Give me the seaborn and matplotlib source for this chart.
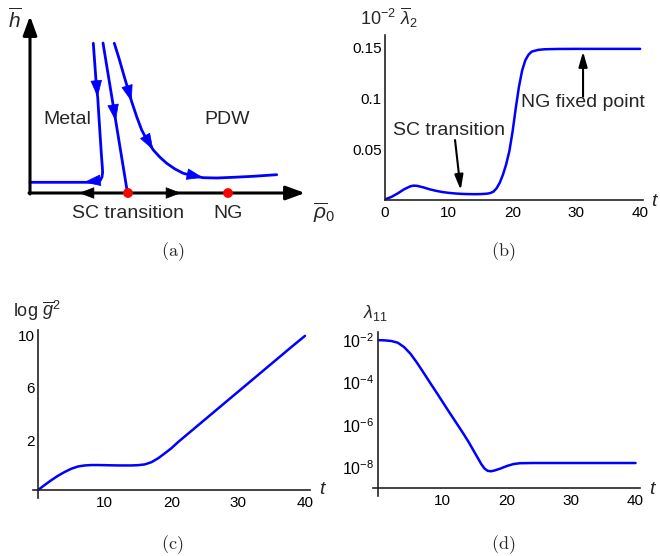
import matplotlib
matplotlib.use("Agg")
import numpy as np
import pandas as pd
import matplotlib.pyplot as plt
import seaborn as sns

# ---------------- data ----------------
# (a) schematic RG flow diagram, in the panel's own drawing units
metal_x = [93.3, 95.0, 96.7, 97.7, 98.7, 100.0, 101.3, 102.3, 102.6, 102.0, 100.3, 97.0, 92.0, 84.0, 56.7, 30.0]
metal_y = [43.3, 66.7, 90.0, 97.0, 113.3, 133.3, 153.3, 166.7, 172.5, 177.0, 180.3, 182.0, 182.3, 182.3, 182.3, 182.3]
sc_x = [103.0, 127.5]
sc_y = [43.0, 193.0]
pdw_x = [114.3, 119.0, 123.3, 127.7, 131.7, 136.7, 141.7, 147.3, 153.3, 160.0, 166.7, 175.0, 183.3, 193.3, 203.3, 216.7, 233.3, 253.3, 276.7]
pdw_y = [43.3, 58.3, 73.3, 88.3, 101.7, 116.7, 130.0, 140.7, 150.0, 157.3, 163.3, 169.0, 173.3, 176.0, 177.7, 178.0, 177.3, 176.3, 174.7]
fixed_x = [128.0, 228.0]
fixed_y = [193.0, 193.0]

# (b) 10^-2 lambda_2 bar vs t
t_b = [0, 1, 2, 3, 4, 4.5, 5, 6, 7, 8, 9, 10, 11, 12, 13, 14, 15, 16, 16.5, 17, 17.5,
       18, 18.5, 19, 19.5, 20, 20.5, 21, 21.5, 22, 22.5, 23, 24, 25, 27, 30, 35, 40]
lam2_b = [0.0006, 0.003, 0.0065, 0.0105, 0.0135, 0.0141, 0.0139, 0.0124, 0.0105, 0.009,
          0.0078, 0.007, 0.0064, 0.006, 0.0058, 0.0057, 0.0058, 0.0062, 0.0068, 0.0082,
          0.0115, 0.017, 0.025, 0.035, 0.048, 0.067, 0.090, 0.111, 0.127, 0.137, 0.1425,
          0.1455, 0.1472, 0.1478, 0.1481, 0.1482, 0.1482, 0.1482]

# (c) log g^2 bar vs t
t_c = [0, 1, 2, 3, 4, 5, 6, 7, 8, 9, 10, 11, 12, 13, 14, 15, 16, 17, 18, 19, 20,
       21, 22, 23, 24, 26, 28, 30, 32, 34, 36, 38, 40]
logg2_c = [-1.84, -1.45, -1.08, -0.74, -0.45, -0.2, -0.03, 0.05, 0.08, 0.08, 0.07, 0.06,
           0.05, 0.05, 0.05, 0.07, 0.13, 0.3, 0.6, 0.98, 1.38, 1.85, 2.28, 2.71, 3.14,
           4.0, 4.86, 5.72, 6.58, 7.44, 8.3, 9.16, 10.0]

# (d) lambda_11 vs t (log10 of the value)
t_d = [0, 1, 2, 3, 4, 5, 6, 7, 8, 9, 10, 11, 12, 13, 14, 15, 16, 16.5, 17, 17.5, 18,
       19, 20, 21, 22, 24, 30, 40]
lam11_exp_d = [-2.0, -2.01, -2.04, -2.12, -2.33, -2.65, -3.07, -3.53, -4.0, -4.46, -4.93,
               -5.4, -5.86, -6.32, -6.8, -7.33, -7.86, -8.07, -8.18, -8.2, -8.17, -8.07,
               -7.95, -7.86, -7.82, -7.81, -7.81, -7.81]

# ---------------- style ----------------
sns.set_style("white")
plt.rcParams['font.family'] = ['Liberation Sans', 'DejaVu Sans']
plt.rcParams['mathtext.fontset'] = 'custom'
plt.rcParams['mathtext.rm'] = 'Liberation Sans'
plt.rcParams['mathtext.it'] = 'Liberation Sans:italic'
plt.rcParams['mathtext.bf'] = 'Liberation Sans:bold'

W, H = 660, 556
BLUE = (0, 0, 1)
fig = plt.figure(figsize=(W / 100, H / 100), dpi=100)


def fx(px):
    return px / W


def fy(py):
    return 1 - py / H


TICK = 11
LAB = 13

# ---------------- panel (a) ----------------
ax_a = fig.add_axes([0, fy(270), 330 / W, 270 / H])
ax_a.set_xlim(0, 330)
ax_a.set_ylim(270, 0)
ax_a.axis('off')


def arrow(ax, tip, frm, color, hl, hw, lw=0.5):
    ax.annotate('', xy=tip, xytext=frm,
                arrowprops=dict(arrowstyle=f'-|>,head_length={hl},head_width={hw}',
                                color=color, lw=lw, shrinkA=0, shrinkB=0,
                                mutation_scale=10))


# coordinate axes with arrows
arrow(ax_a, (30, 16), (30, 194), 'black', 1.15, 0.42, lw=2.2)
arrow(ax_a, (305, 193), (29, 193), 'black', 1.15, 0.42, lw=2.2)
arrow(ax_a, (79, 193), (93, 193), 'black', 1.0, 0.38)
arrow(ax_a, (181, 193), (167, 193), 'black', 1.0, 0.38)

flows = [(metal_x, metal_y, [(3, 1), (13, 10)]),
         (sc_x, sc_y, [None]),
         (pdw_x, pdw_y, [(4, 2), (8, 6), (14, 12)])]
for xs, ys, arrows in flows:
    sns.lineplot(x=xs, y=ys, sort=False, estimator=None, ax=ax_a, color=BLUE, lw=2.0)
    for a in arrows:
        if a is None:
            frac = 0.52
            tip = (xs[0] + frac * (xs[1] - xs[0]), ys[0] + frac * (ys[1] - ys[0]))
            frm = (xs[0] + (frac - 0.1) * (xs[1] - xs[0]), ys[0] + (frac - 0.1) * (ys[1] - ys[0]))
        else:
            tip = (xs[a[0]], ys[a[0]])
            frm = (xs[a[1]], ys[a[1]])
        arrow(ax_a, tip, frm, BLUE, 1.1, 0.38)

sns.scatterplot(x=fixed_x, y=fixed_y, ax=ax_a, color='red', s=50, edgecolor='none', zorder=6)

ax_a.text(67, 124, 'Metal', ha='center', va='baseline', size=14)
ax_a.text(227, 124, 'PDW', ha='center', va='baseline', size=14)
ax_a.text(128, 218, 'SC transition', ha='center', va='baseline', size=14)
ax_a.text(228, 218, 'NG', ha='center', va='baseline', size=14)
ax_a.text(15, 20, r'$\overline{h}$', ha='center', va='center', size=15)
ax_a.text(324, 213, r'$\overline{\rho}_0$', ha='center', va='center', size=15, clip_on=False)

# ---------------- panel (b) ----------------
ax_b = fig.add_axes([fx(385), fy(200), (643 - 385) / W, (200 - 35) / H])
sns.lineplot(x=t_b, y=lam2_b, ax=ax_b, color=BLUE, lw=1.8)
ax_b.set_xlim(0, 40.45)
ax_b.set_ylim(0, 0.1618)
ax_b.set_xticks([0, 10, 20, 30, 40])
ax_b.set_yticks([0.05, 0.1, 0.15])
ax_b.set_yticklabels(['0.05', '0.1', '0.15'])
arrow(ax_b, (11.87, 0.0098), (10.98, 0.0588), 'black', 0.9, 0.26, lw=1.5)
ax_b.text(10.1, 0.064, 'SC transition', ha='center', va='baseline', size=14)
arrow(ax_b, (31.05, 0.1455), (31.05, 0.1013), 'black', 0.9, 0.26, lw=1.5)
ax_b.text(31.05, 0.091, 'NG fixed point', ha='center', va='baseline', size=14)

# ---------------- panel (c) ----------------
ax_c = fig.add_axes([fx(33), fy(498), (310 - 33) / W, (498 - 330) / H])
sns.lineplot(x=t_c, y=logg2_c, ax=ax_c, color=BLUE, lw=1.8)
ax_c.set_xlim(-0.75, 40.75)
ax_c.set_ylim(-2.45, 10.45)
ax_c.spines['left'].set_position(('data', 0))
ax_c.spines['bottom'].set_position(('data', -1.84))
ax_c.set_xticks([10, 20, 30, 40])
ax_c.set_yticks([2, 6, 10])

# ---------------- panel (d) ----------------
ax_d = fig.add_axes([fx(373), fy(496), (640 - 373) / W, (496 - 331.7) / H])
sns.lineplot(x=t_d, y=[10.0 ** e for e in lam11_exp_d], ax=ax_d, color=BLUE, lw=1.8)
ax_d.set_yscale('log')
ax_d.set_xlim(-0.85, 40.7)
ax_d.set_ylim(10 ** -9.37, 10 ** -1.6)
ax_d.spines['left'].set_position(('data', 0))
ax_d.spines['bottom'].set_position(('data', 1e-9))
ax_d.set_xticks([10, 20, 30, 40])
ax_d.set_yticks([1e-2, 1e-4, 1e-6, 1e-8])
ax_d.yaxis.set_minor_locator(matplotlib.ticker.NullLocator())

for ax in (ax_b, ax_c, ax_d):
    for s in ('top', 'right'):
        ax.spines[s].set_visible(False)
    for s in ('left', 'bottom'):
        ax.spines[s].set_linewidth(1.2)
        ax.spines[s].set_color('#222222')
    ax.tick_params(direction='in', length=2.5, width=1, labelsize=TICK, colors='#222222')
    ax.tick_params(axis='x', pad=4, labelcolor='black')
    ax.tick_params(axis='y', pad=2.5, labelcolor='black')
    ax.set_xlabel('')
    ax.set_ylabel('')
    ax.patch.set_alpha(0)
ax_d.tick_params(axis='y', labelsize=11.5, pad=3)

# axis labels
fig.text(fx(360), fy(18), r'$10^{-2}\ \overline{\lambda}_2$', ha='left', va='center', size=LAB)
fig.text(fx(655), fy(201), r'$t$', ha='center', va='center', size=LAB + 1)
fig.text(fx(13), fy(311), r'log $\overline{g}^2$', ha='left', va='center', size=LAB)
fig.text(fx(323), fy(489), r'$t$', ha='center', va='center', size=LAB + 1)
fig.text(fx(363), fy(313), r'$\lambda_{11}$', ha='left', va='center', size=LAB)
fig.text(fx(653), fy(489), r'$t$', ha='center', va='center', size=LAB + 1)

# captions
for lab, x, y in [('(a)', 173, 252), ('(b)', 503, 252), ('(c)', 172, 545), ('(d)', 503, 545)]:
    fig.text(fx(x), fy(y), r'$\mathrm{' + lab + '}$', ha='center', va='center', size=13,
             math_fontfamily='cm')

fig.savefig('out.png', dpi=100)
